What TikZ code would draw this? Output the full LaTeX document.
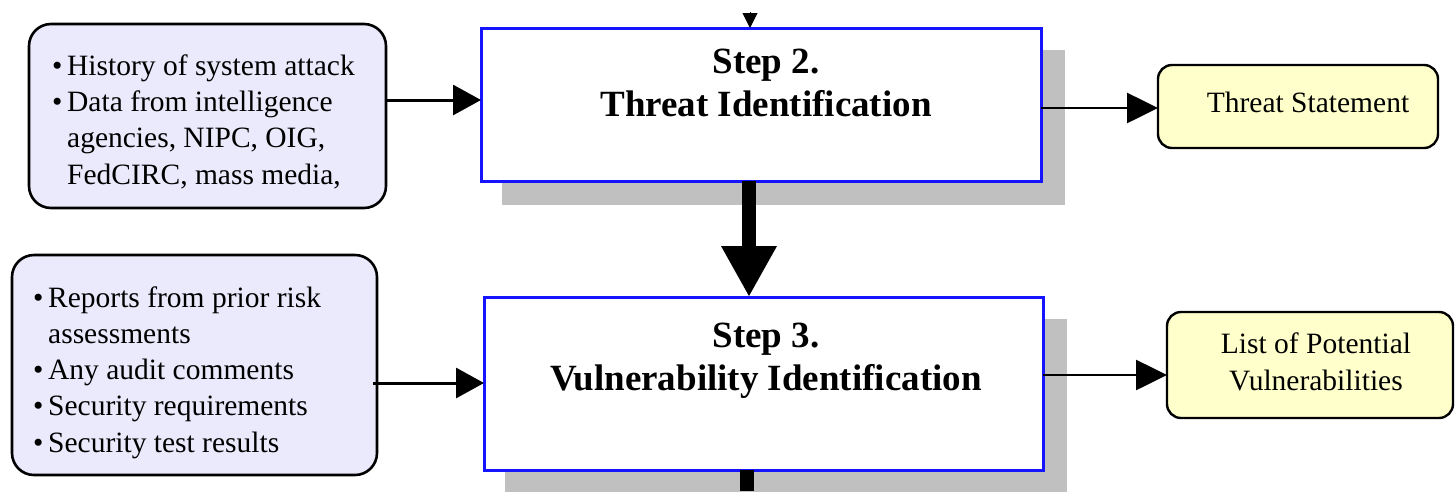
\documentclass[tikz,border=0pt]{standalone}
\usepackage{fontspec}
\setmainfont{Liberation Serif}
\usetikzlibrary{arrows.meta}

\definecolor{inputfill}{RGB}{234,234,252}
\definecolor{outputfill}{RGB}{255,255,204}
\definecolor{shadowgray}{RGB}{192,192,192}
\definecolor{stepblue}{RGB}{20,20,255}

\newcommand{\bul}{\makebox[15pt][l]{\textbullet}}
\newcommand{\ind}{\hspace*{15pt}}

\begin{document}
\begin{tikzpicture}[x=1pt,y=-1pt,
  inbox/.style={draw=black, line width=2.6pt, fill=inputfill, rounded corners=22pt,
    inner sep=0pt, outer sep=0pt},
  outbox/.style={draw=black, line width=2.4pt, fill=outputfill, rounded corners=14pt,
    inner sep=0pt, outer sep=0pt},
  stepbox/.style={draw=stepblue, line width=3pt, fill=white, inner sep=0pt, outer sep=0pt},
  shade/.style={fill=shadowgray, draw=none},
  plaintext/.style={font=\fontsize{29.5}{36.2}\selectfont, inner sep=0pt},
  steptext/.style={font=\bfseries\fontsize{37}{43}\selectfont, align=center, anchor=base, inner sep=0pt},
  feed/.style={line width=3pt, -{Triangle[length=28pt,width=30pt]}},
  yield/.style={line width=2.6pt, -{Triangle[length=31pt,width=30pt]}},
  flow/.style={line width=14pt, -{Triangle[length=51pt,width=52pt]}}
]
\useasboundingbox (0,0) rectangle (1456,491);

% drop shadows behind the two step boxes
\fill[shade] (502,50) rectangle (1065,205);
\fill[shade] (505,319) rectangle (1067,495);

% step boxes (text nodes are anchored at the baseline of their last line)
\node[stepbox, minimum width=560pt, minimum height=153pt] (step2) at (761,104.5) {};
\node[stepbox, minimum width=559pt, minimum height=173pt] (step3) at (763.5,383.5) {};
\node[steptext] (step2title) at (766,116) {Step 2.\\Threat Identification};
\node[steptext] (step3title) at (766,390) {Step 3.\\Vulnerability Identification};

% input boxes
\node[inbox, minimum width=357pt, minimum height=184pt] (in2) at (207.5,116) {};
\node[inbox, minimum width=365pt, minimum height=220pt] (in3) at (194.5,365) {};
\node[plaintext, align=left, anchor=base west] (in2text) at (52,184)
  {\bul History of system attack\\
   \bul Data from intelligence\\
   \ind agencies, NIPC, OIG,\\
   \ind FedCIRC, mass media,};
\node[plaintext, align=left, anchor=base west] (in3text) at (33,452)
  {\bul Reports from prior risk\\
   \ind assessments\\
   \bul Any audit comments\\
   \bul Security requirements\\
   \bul Security test results};

% output boxes
\node[outbox, minimum width=280pt, minimum height=83pt] (out2) at (1298,106.5) {};
\node[outbox, minimum width=286pt, minimum height=106pt] (out3) at (1310,365) {};
\node[plaintext, anchor=base] (out2text) at (1308,112) {Threat Statement};
\node[plaintext, align=center, anchor=base] (out3text) at (1316,390)
  {List of Potential\\Vulnerabilities};

% connector anchors
\coordinate (topin) at (750,12);
\coordinate (spine) at (749,0);
\coordinate (tail) at (747,491);
\coordinate (row2) at (0,100);
\coordinate (row3) at (0,383);
\coordinate (out2row) at (0,108);
\coordinate (out3row) at (0,375);

% main flow
\draw[line width=1pt, -{Triangle[length=15pt,width=15pt]}] (topin) -- (step2.north -| topin);
\draw[flow] (step2.south -| spine) -- (step3.north -| spine);
\draw[line width=14pt] (step3.south -| tail) -- (tail);

% inputs and outputs
\draw[feed] (in2.east |- row2) -- (step2.west |- row2);
\draw[feed] ([xshift=-4pt]in3.east |- row3) -- (step3.west |- row3);
\draw[yield] (step2.east |- out2row) -- (out2.west |- out2row);
\draw[yield] (step3.east |- out3row) -- (out3.west |- out3row);
\end{tikzpicture}
\end{document}
